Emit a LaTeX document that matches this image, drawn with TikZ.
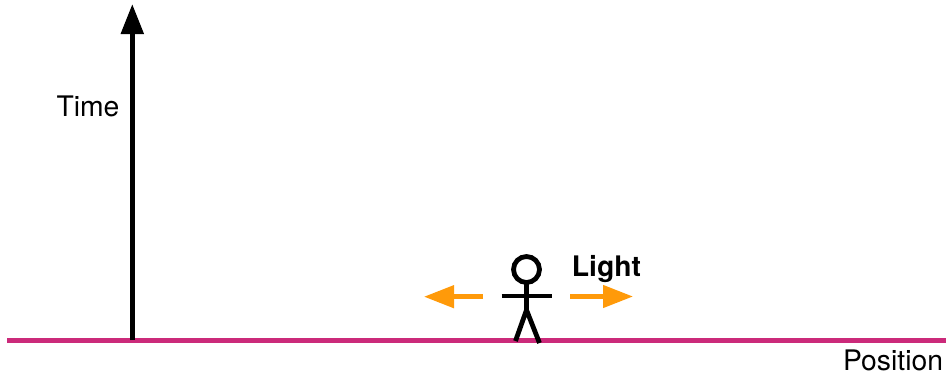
\documentclass[tikz,border=0pt]{standalone}
\usepackage{fontspec}
\setmainfont{TeX Gyre Heros}
\usetikzlibrary{arrows.meta}
\definecolor{axismagenta}{HTML}{CB2A7A}
\definecolor{lightorange}{HTML}{FF9A0A}
\tikzset{
  px/.style={x=1pt,y=-1pt},
  timearrow/.style={draw=black,line width=5pt,-{Triangle[length=30pt,width=22pt]}},
  poslineb/.style={draw=axismagenta,line width=5.5pt},
  lightarrow/.style={draw=lightorange,line width=4.5pt,-{Triangle[length=30pt,width=22pt]}},
  figure line/.style={draw=black,line width=4.8pt},
  label text/.style={inner sep=0pt,font=\fontsize{28.3pt}{32pt}\selectfont,text=black,anchor=base},
}
\begin{document}
\begin{tikzpicture}[px]
\useasboundingbox (0,0) rectangle (946,375);
% named points
\coordinate (axisL) at (7,340.5);
\coordinate (axisR) at (946,340.5);
\coordinate (timeB) at (132.3,340);
\coordinate (timeT) at (132.3,4);
\coordinate (leftS) at (483,296.7);
\coordinate (leftE) at (424,296.7);
\coordinate (rightS) at (570,296.5);
\coordinate (rightE) at (633,296.5);
\coordinate (armL) at (501.5,296);
\coordinate (armR) at (551.5,296);
\coordinate (hip) at (526.5,310);
\coordinate (footL) at (515.5,341);
\coordinate (footR) at (539.5,343);
% axes
\draw[poslineb] (axisL) -- (axisR);
\draw[timearrow] (timeB) -- (timeT);
% light arrows
\draw[lightarrow] (leftS) -- (leftE);
\draw[lightarrow] (rightS) -- (rightE);
% stick figure
\node[circle,draw=black,line width=4.8pt,minimum size=26pt,inner sep=0pt,outer sep=0pt,fill=white] (head) at (526.5,269.5) {};
\draw[figure line] (head.south) -- (hip);
\draw[figure line] (armL) -- (armR);
\draw[figure line] (footL) -- (hip) -- (footR);
% labels
\node[label text] (timeLabel) at (88,116) {Time};
\node[label text] (posLabel) at (893,370.5) {Position};
\node[label text,font=\fontsize{28.3pt}{32pt}\selectfont\bfseries] (lightLabel) at (606.5,276) {Light};
\end{tikzpicture}
\end{document}
